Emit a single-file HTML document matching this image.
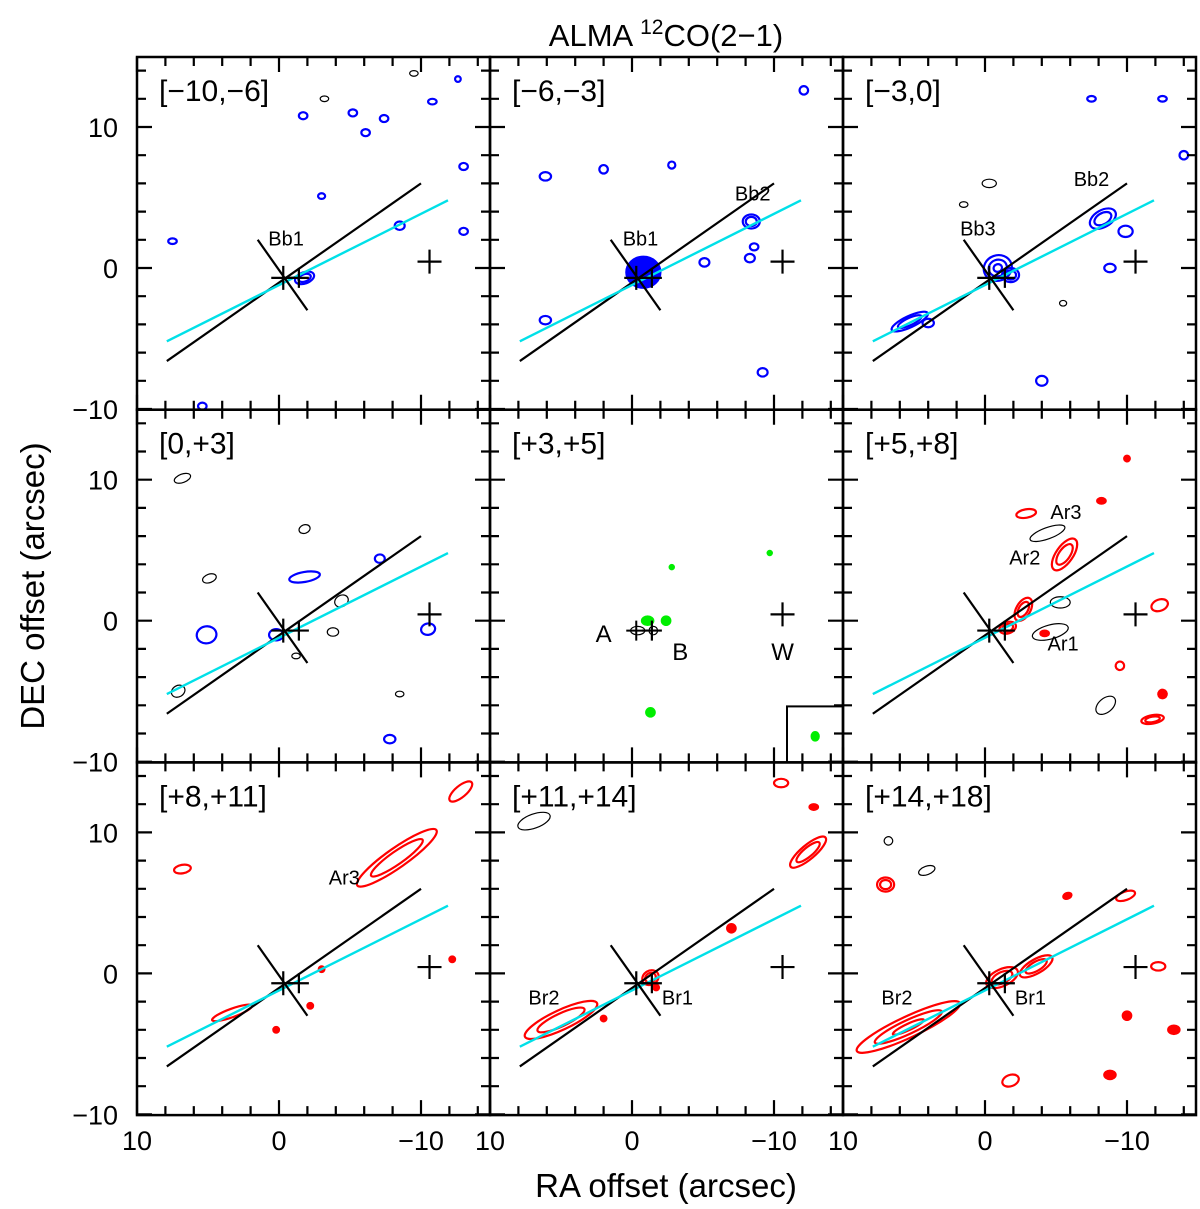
<!DOCTYPE html>
<html><head><meta charset="utf-8"><style>
html,body{margin:0;padding:0;background:#fff}
svg{display:block;font-family:"Liberation Sans",sans-serif}
</style></head><body>
<svg id="c" width="1200" height="1209" viewBox="0 0 1200 1209"></svg>
<script>
// Panel data
const panelLabels = ["[\u221210,\u22126]","[\u22126,\u22123]","[\u22123,0]","[0,+3]","[+3,+5]","[+5,+8]","[+8,+11]","[+11,+14]","[+14,+18]"];
const xTickLabels = ["10","0","\u221210"];
const xTickValues = [10,0,-10];
const yTickLabels = ["10","0","\u221210"];
const yTickValues = [10,0,-10];
// jet axis (black), cyan axis, perpendicular (RA, DEC arcsec)
const blackLine = [[7.9,-6.6],[-10,6.0]];
const cyanLine = [[7.9,-5.2],[-11.9,4.8]];
const perpLine = [[1.5,2.0],[-2.0,-3.0]];
const starPos = [-0.3,-0.7];
const bPos = [-1.4,-0.7];
const wPos = [-10.6,0.45];
// contours: panel, ra, dec, rx(arcsec), ry, angle(deg), color, nested levels, filled
const cPanel = [0,0,0,0,0,0,0,0,0,0,0,0,0,0,0,
 1,1,1,1,1,1,1,1,1,1,1,
 2,2,2,2,2,2,2,2,2,2,2,2,2,2,
 3,3,3,3,3,3,3,3,3,3,3,3,3,3,
 4,4,4,4,4,4,4,4,
 5,5,5,5,5,5,5,5,5,5,5,5,5,5,5,
 6,6,6,6,6,6,6,6,
 7,7,7,7,7,7,7,7,7,
 8,8,8,8,8,8,8,8,8,8,8,8,8];
const cRa = [7.5,5.4,-1.7,-5.2,-7.4,-6.1,-10.8,-12.6,-13,-3,-8.5,-13,-1.8,-9.5,-3.2,
 -0.8,-8.4,6.1,2,-2.8,-12.1,-5.1,-8.3,-9.2,6.1,-8.6,
 -8.3,-9.9,-0.9,-1.8,5.3,4.0,-4,-8.8,-12.5,-7.5,1.5,-5.5,-14,-0.3,
 5.1,-1.8,-7.1,-10.5,-7.8,0.2,6.8,4.9,-4.4,7.1,-1.8,-3.8,-8.5,-1.2,
 -1.1,-2.4,-1.3,-2.8,-9.7,-12.9,-0.4,-1.5,
 -5.6,-2.9,-2.7,-1.6,-12.3,-9.5,-11.8,-4.4,-4.6,-5.3,-8.5,-10,-12.5,-4.2,-8.2,
 -8.3,-12.8,6.8,3.3,-2.2,0.2,-3.0,-12.2,
 5.0,-1.3,-12.4,6.9,-7,-10.5,-12.8,-1.7,2.0,
 5.4,-1.2,-3.6,7.0,-1.8,-9.9,-10.0,-13.3,-8.8,6.8,4.1,-12.2,-5.8];
const cDec = [1.9,-9.8,10.8,11,10.6,9.6,11.8,13.4,7.2,5.1,3.0,2.6,-0.7,13.8,12,
 -0.3,3.3,6.5,7,7.3,12.6,0.4,0.7,-7.4,-3.7,1.5,
 3.5,2.6,0,-0.5,-3.8,-3.9,-8,0,12,12,4.5,-2.5,8,6,
 -1.0,3.1,4.4,-0.6,-8.4,-1.0,10.1,3.0,1.4,-5.0,6.5,-0.8,-5.2,-2.5,
 0,0,-6.5,3.8,4.8,-8.2,-0.7,-0.7,
 4.7,7.6,0.8,-0.5,1.1,-3.2,-7,6.2,-0.8,1.3,-6,11.5,-5.2,-0.9,8.5,
 8.2,12.9,7.4,-2.8,-2.3,-4.0,0.3,1.0,
 -3.3,-0.3,8.6,10.8,3.2,13.5,11.8,-1.0,-3.2,
 -3.8,-0.3,0.5,6.3,-7.6,5.5,-3.0,-4.0,-7.2,9.4,7.3,0.5,5.5];
const cRx = [.3,.3,.3,.3,.3,.3,.3,.2,.3,.25,.35,.3,.7,.3,.3,
 1.2,.6,.4,.3,.25,.3,.35,.35,.35,.4,.3,
 1.0,.5,1.0,.6,1.4,.4,.4,.4,.3,.3,.3,.25,.3,.5,
 .6,.35,.35,.4,.4,.5,.6,.5,.5,.5,.4,.4,.3,.3,
 .4,.3,.3,.15,.15,.25,.5,.3,
 1.3,.7,.9,.6,.6,.3,.8,1.3,1.3,.7,.8,.2,.3,.3,.3,
 3.4,1.0,.3,1.5,.2,.2,.2,.2,
 2.8,.6,1.6,1.2,.3,.5,.3,.2,.2,
 4.0,1.2,1.3,.6,.6,.7,.3,.4,.4,.3,.6,.5,.3];
const cRy = [.2,.25,.25,.25,.25,.25,.2,.2,.25,.2,.3,.25,.4,.2,.2,
 1.1,.5,.3,.3,.25,.3,.3,.3,.3,.3,.25,
 .6,.4,.9,.5,.4,.3,.35,.3,.2,.2,.2,.2,.3,.3,
 .7,1.1,.3,.5,.3,.4,.3,.3,.4,.4,.3,.3,.2,.2,
 .3,.3,.3,.15,.15,.3,.3,.3,
 .6,.3,.5,.4,.4,.3,.3,.4,.5,.4,.5,.2,.3,.2,.2,
 .7,.4,.6,.3,.2,.2,.2,.2,
 .7,.5,.5,.5,.3,.3,.2,.2,.2,
 .75,.6,.5,.5,.4,.3,.3,.3,.3,.3,.3,.3,.2];
const cAng = [0,0,0,0,0,0,0,0,0,0,0,0,-20,0,0,
 0,0,0,0,0,0,0,0,0,0,0,
 -30,0,-20,0,-25,0,0,0,0,0,0,0,0,0,
 80,80,0,80,0,0,-20,-20,-30,-30,-20,0,0,0,
 0,0,0,0,0,0,0,0,
 -55,-10,-60,-20,-20,-30,-10,-20,-15,0,-40,-30,-30,0,0,
 -35,-40,80,-20,0,0,0,0,
 -25,-30,-40,-20,0,0,0,0,0,
 -25,-25,-30,0,-20,-20,0,0,0,-20,-20,0,-20];
const cCol = ["b","b","b","b","b","b","b","b","b","b","b","b","b","k","k",
 "b","b","b","b","b","b","b","b","b","b","b",
 "b","b","b","b","b","b","b","b","b","b","k","k","b","k",
 "b","b","b","b","b","b","k","k","k","k","k","k","k","k",
 "g","g","g","g","g","g","k","k",
 "r","r","r","r","r","r","r","k","k","k","k","r","r","r","r",
 "r","r","r","r","r","r","r","r",
 "r","r","r","k","r","r","r","r","r",
 "r","r","r","r","r","r","r","r","r","k","k","r","r"];
const cLev = [1,1,1,1,1,1,1,1,1,1,1,1,2,1,1,
 1,2,1,1,1,1,1,1,1,1,1,
 2,1,3,2,2,1,1,1,1,1,1,1,1,1,
 1,1,1,1,1,1,1,1,1,1,1,1,1,1,
 1,1,1,1,1,1,1,1,
 2,1,2,2,1,1,2,1,1,1,1,1,1,1,1,
 2,1,1,1,1,1,1,1,
 2,2,2,1,1,1,1,1,1,
 3,2,2,2,1,1,1,1,1,1,1,1,1];
const cFill = [0,0,0,0,0,0,0,0,0,0,0,0,0,0,0,
 1,0,0,0,0,0,0,0,0,0,0,
 0,0,0,0,0,0,0,0,0,0,0,0,0,0,
 0,0,0,0,0,0,0,0,0,0,0,0,0,0,
 1,1,1,1,1,1,0,0,
 0,0,0,0,0,0,0,0,0,0,0,1,1,1,1,
 0,0,0,0,1,1,1,1,
 0,0,0,0,1,0,1,1,1,
 0,0,0,0,0,0,1,1,1,0,0,0,1];
const colors = {b:"#0000ff",k:"#000000",r:"#ff0000",g:"#00ee00"};
// labels in panels: panel, text, ra, dec
const tPanel=[0,1,1,2,2,4,4,4,5,5,5,6,7,7,8,8];
const tText=["Bb1","Bb1","Bb2","Bb3","Bb2","A","B","W","Ar3","Ar2","Ar1","Ar3","Br2","Br1","Br2","Br1"];
const tRa=[-0.5,-0.6,-8.5,0.5,-7.5,2.0,-3.4,-10.6,-5.7,-2.8,-5.5,-4.6,6.2,-3.2,6.2,-3.2];
const tDec=[1.6,1.6,4.8,2.3,5.8,-1.5,-2.8,-2.8,7.2,4.0,-2.1,6.3,-2.2,-2.2,-2.2,-2.2];

const NS="http://www.w3.org/2000/svg";
const svg=document.getElementById('c');
function mk(tag,at,parent){const e=document.createElementNS(NS,tag);for(const k in at)e.setAttribute(k,at[k]);(parent||svg).appendChild(e);return e;}
const PW=353, PH=352.7, X0=137, Y0=57, SX=14.2, SY=14.1;
function px(p,ra){return X0+(p%3)*PW+142-ra*SX;}
function py(p,dec){return Y0+Math.floor(p/3)*PH+211-dec*SY;}

for(let p=0;p<9;p++){
  const g=mk('g',{});
  
  
  const left=X0+(p%3)*PW, top=Y0+Math.floor(p/3)*PH;
  const clip=mk('clipPath',{id:'cp'+p},g);
  mk('rect',{x:left,y:top,width:PW,height:PH},clip);
  const inner=mk('g',{'clip-path':'url(#cp'+p+')'},g);
  for(let i=0;i<cPanel.length;i++){
    if(cPanel[i]!==p)continue;
    const cx=px(p,cRa[i]),cy=py(p,cDec[i]);
    for(let l=0;l<cLev[i];l++){
      const f=1-l*0.35;
      const e=mk('ellipse',{cx:cx,cy:cy,rx:Math.max(1.5,cRx[i]*SX*f),ry:Math.max(1.5,cRy[i]*SY*f),
        transform:'rotate('+cAng[i]+' '+cx+' '+cy+')',fill:cFill[i]?colors[cCol[i]]:'none',
        stroke:colors[cCol[i]],'stroke-width':cCol[i]==='k'?1.2:2.2},inner);
      
      
    }
  }
  if(p!==4){
    const bl=mk('line',{x1:px(p,blackLine[0][0]),y1:py(p,blackLine[0][1]),x2:px(p,blackLine[1][0]),y2:py(p,blackLine[1][1]),stroke:'#000','stroke-width':2.2},inner);
    
    
    const cl=mk('line',{x1:px(p,cyanLine[0][0]),y1:py(p,cyanLine[0][1]),x2:px(p,cyanLine[1][0]),y2:py(p,cyanLine[1][1]),stroke:'#00e0e8','stroke-width':2.4},inner);
    
    
    const pl=mk('line',{x1:px(p,perpLine[0][0]),y1:py(p,perpLine[0][1]),x2:px(p,perpLine[1][0]),y2:py(p,perpLine[1][1]),stroke:'#000','stroke-width':2.2},inner);
    
    
    const sx=px(p,starPos[0]),sy=py(p,starPos[1]);
    mk('path',{d:`M${sx-12} ${sy}H${sx+12}M${sx} ${sy-12}V${sy+12}`,stroke:'#000','stroke-width':2.2},inner);
  } else {
    const sx=px(p,starPos[0]),sy=py(p,starPos[1]);
    mk('path',{d:`M${sx-10} ${sy}H${sx+10}M${sx} ${sy-10}V${sy+10}`,stroke:'#000','stroke-width':2},inner);
    mk('rect',{x:left+PW-56,y:top+PH-56,width:56,height:56,fill:'none',stroke:'#000','stroke-width':2},inner);
  }
  const bx=px(p,bPos[0]),by=py(p,bPos[1]);
  mk('path',{d:`M${bx-10} ${by}H${bx+10}M${bx} ${by-10}V${by+10}`,stroke:'#000','stroke-width':2.2},inner);
  const wx=px(p,wPos[0]),wy=py(p,wPos[1]);
  const wm=mk('path',{d:`M${wx-12} ${wy}H${wx+12}M${wx} ${wy-12}V${wy+12}`,stroke:'#000','stroke-width':2.2},inner);
  
  
  let d='';
  for(let v=-14;v<=10;v+=2){
    const x=px(p,v), L=(v%10===0)?15:9;
    d+=`M${x} ${top}v${L}M${x} ${top+PH}v${-L}`;
  }
  for(let v=-10;v<=14;v+=2){
    const y=py(p,v), L=(v%10===0)?15:9;
    d+=`M${left} ${y}h${L}M${left+PW} ${y}h${-L}`;
  }
  mk('path',{d:d,stroke:'#000','stroke-width':2.2},g);
  const fr=mk('rect',{x:left,y:top,width:PW,height:PH,fill:'none',stroke:'#000','stroke-width':2.5},g);
  
  
  const lb=mk('text',{x:left+22,y:top+44,'font-size':30,fill:'#000'},g);
  lb.textContent=panelLabels[p];
  
  
  for(let i=0;i<tPanel.length;i++){
    if(tPanel[i]!==p)continue;
    const big=(p===4);
    const t=mk('text',{x:px(p,tRa[i]),y:py(p,tDec[i]),'font-size':big?24:20,'text-anchor':'middle',fill:'#000'},g);
    t.textContent=tText[i];
    
    
  }
  if(Math.floor(p/3)===2){
    for(let k=0;k<xTickValues.length;k++){
      const t=mk('text',{x:px(p,xTickValues[k]),y:1150,'font-size':27,'text-anchor':'middle',fill:'#000'},g);
      t.textContent=xTickLabels[k];
      
      
    }
  }
  if(p%3===0){
    for(let k=0;k<yTickValues.length;k++){
      const t=mk('text',{x:118,y:py(p,yTickValues[k])+10,'font-size':27,'text-anchor':'end',fill:'#000'},g);
      t.textContent=yTickLabels[k];
      
      
    }
  }
}
const title=mk('text',{x:666,y:46,'font-size':31,'text-anchor':'middle',fill:'#000'});
title.innerHTML='ALMA <tspan dy="-12" font-size="21">12</tspan><tspan dy="12">CO(2\u22121)</tspan>';


const xl=mk('text',{x:666,y:1197,'font-size':33,'text-anchor':'middle',fill:'#000'});
xl.textContent='RA offset (arcsec)';


const yl=mk('text',{x:0,y:0,'font-size':33,'text-anchor':'middle',fill:'#000',transform:'translate(44,586) rotate(-90)'});
yl.textContent='DEC offset (arcsec)';


</script>
</body></html>
